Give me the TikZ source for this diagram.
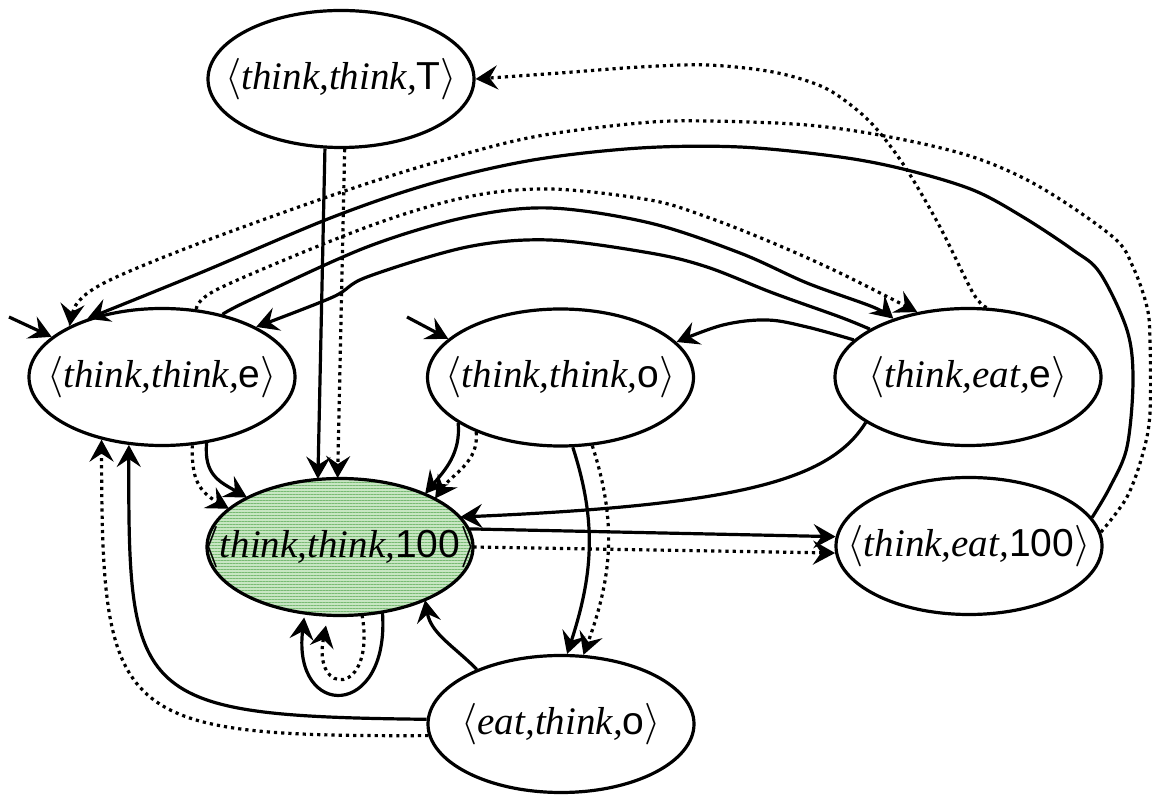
\documentclass[tikz,border=0pt]{standalone}
\usepackage{fontspec}
\setmainfont{Liberation Serif}
\newfontfamily\statesans{Liberation Sans}
\usetikzlibrary{shapes.geometric,arrows.meta,patterns.meta}
\definecolor{goalfill}{RGB}{200,230,195}
\definecolor{goalline}{RGB}{120,186,115}
% state label: < think, think, X >
\newcommand\statelabel[3]{\makebox[0pt]{$\langle$\textit{#1,#2,}{\statesans #3}$\rangle$}}

\begin{document}
\begin{tikzpicture}[x=0.5pt,y=-0.5pt,
  state/.style={ellipse,draw,line width=1.6pt,minimum width=133pt,
    minimum height=68.5pt,inner sep=0pt,font=\fontsize{19.5}{23}\selectfont},
  goal/.style={state,preaction={fill=goalfill},
    pattern={Lines[angle=0,distance=1.5pt,line width=0.5pt]},pattern color=goalline},
  tr/.style={line width=1.6pt,-{Stealth[length=11pt,width=12pt,inset=4pt]}},
  dt/.style={tr,dash pattern=on 1.6pt off 2pt}]
\useasboundingbox (0,0) rectangle (1152,795);

% states
\node[state] (T)     at (341,79)    {\statelabel{think}{think}{T}};
\node[state] (E)     at (162,377)   {\statelabel{think}{think}{e}};
\node[state] (O)     at (560.5,377.5) {\statelabel{think}{think}{o}};
\node[state] (TE)    at (968,377)   {\statelabel{think}{eat}{e}};
\node[goal]  (G)     at (340,547)   {\statelabel{think}{think}{100}};
\node[state] (TE100) at (969,546)   {\statelabel{think}{eat}{100}};
\node[state] (ETO)   at (561,724)   {\statelabel{eat}{think}{o}};

% initial markers
\coordinate (ie) at (9,317);
\coordinate (io) at (407,317);
\draw[tr] (ie) -- (E.160);
\draw[tr] (io) -- (O.161);

% into the goal state
\draw[tr] (T.257) -- (G.108);
\draw[dt] (T.273) -- (G.92);
\draw[tr] (E.-56) to[out=-95,in=150,looseness=1.2] (G.152);
\draw[dt] (E.-66) to[out=-92,in=150,looseness=1.2] (G.161);
\draw[tr] (O.204) to[out=-85,in=50] (G.32);
\draw[dt] (O.213) to[out=-85,in=55] (G.27);
\draw[tr] (ETO.147) to[out=135,in=-80] (G.-32);
\draw[tr] (TE.204) .. controls (830,480) and (740,505) .. (G.14);

% goal self loop
\draw[tr,shorten >=2pt] (G.-57) .. controls (390,720) and (292,720) .. (G.-118);
\draw[dt,shorten >=5pt] (G.-72) .. controls (376,697) and (312,697) .. (G.-100);

% goal to <think,eat,100>
\draw[tr] (G.8) -- (TE100.176);
\draw[dt] (G.0) -- (TE100.183);

% <think,think,o> to <eat,think,o>
\draw[tr] (O.280) to[out=-72,in=72] (ETO.85);
\draw[dt] (O.295) to[out=-72,in=70] (ETO.72);

% <eat,think,o> back to <think,think,e>
\draw[tr] (ETO.178) .. controls (135,716) and (128,700) .. (E.244);
\draw[dt] (ETO.185) .. controls (115,737) and (102,720) .. (E.226);

% <think,eat,e> to <think,think,o>
\draw[tr] plot[smooth,tension=0.6] coordinates
  {(TE.162) (807,327) (767,320) (723,325) (O.17)};

% <think,think,e> to <think,eat,e>
\draw[tr] plot[smooth,tension=0.55] coordinates
  {(E.46) (250,300) (367,247) (467,217) (550,208) (650,223) (740,253) (807,283) (873,307) (TE.142)};
\draw[dt] plot[smooth,tension=0.55] coordinates
  {(E.63) (220,288) (367,227) (467,197) (550,189) (650,200) (707,217) (773,243) (840,273) (TE.128)};

% <think,eat,e> to <think,think,e>
\draw[tr] plot[smooth,tension=0.55] coordinates
  {(TE.154) (840,317) (773,293) (707,267) (650,253) (550,240) (467,247) (367,277) (333,297) (E.28)};

% <think,eat,e> to <think,think,T>
\draw[dt] plot[smooth,tension=0.55] coordinates
  {(TE.75) (973,293) (940,227) (907,170) (880,133) (857,110) (823,87) (773,72) (707,65) (640,67) (560,73) (T.0)};

% <think,eat,100> to <think,think,e>
\draw[tr] plot[smooth,tension=0.55] coordinates
  {(TE100.13) (1110,487) (1127,447) (1133,380) (1127,330) (1100,273) (1073,250) (1023,217) (973,190)
   (907,170) (840,157) (740,147) (640,148) (533,160) (433,183) (333,217) (200,273) (E.142)};
\draw[dt] plot[smooth,tension=0.55] coordinates
  {(TE100.6) (1127,497) (1143,453) (1150,413) (1150,340) (1147,307) (1133,267) (1113,237) (1040,187)
   (973,157) (890,137) (807,125) (707,121) (640,123) (533,137) (433,163) (333,195) (200,243)
   (110,280) (78,302) (E.151)};
\end{tikzpicture}
\end{document}
